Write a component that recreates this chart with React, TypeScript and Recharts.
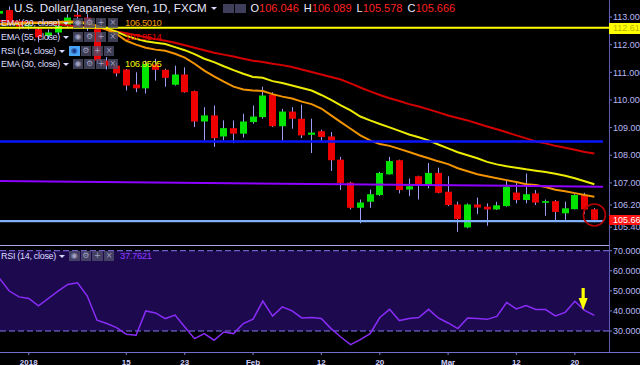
import React from 'react';
import {
  ComposedChart,
  Bar,
  Line,
  XAxis,
  YAxis,
  ReferenceLine,
  ReferenceDot,
  ReferenceArea,
} from 'recharts';

const FONT = '"Liberation Sans", Arial, Helvetica, sans-serif';

// ---------- categories ----------
const dates = [
  '2017-12-27', '2017-12-28', '2017-12-29', '2018-01-01', '2018-01-02', '2018-01-03', '2018-01-04', '2018-01-05', '2018-01-08', '2018-01-09',
  '2018-01-10', '2018-01-11', '2018-01-12', '2018-01-15', '2018-01-16', '2018-01-17', '2018-01-18', '2018-01-19', '2018-01-22', '2018-01-23',
  '2018-01-24', '2018-01-25', '2018-01-26', '2018-01-29', '2018-01-30', '2018-01-31', '2018-02-01', '2018-02-02', '2018-02-05', '2018-02-06',
  '2018-02-07', '2018-02-08', '2018-02-09', '2018-02-12', '2018-02-13', '2018-02-14', '2018-02-15', '2018-02-16', '2018-02-19', '2018-02-20',
  '2018-02-21', '2018-02-22', '2018-02-23', '2018-02-26', '2018-02-27', '2018-02-28', '2018-03-01', '2018-03-02', '2018-03-05', '2018-03-06',
  '2018-03-07', '2018-03-08', '2018-03-09', '2018-03-12', '2018-03-13', '2018-03-14', '2018-03-15', '2018-03-16', '2018-03-19', '2018-03-20',
  '2018-03-21', '2018-03-22',
];

// ---------- OHLC ----------
const openPrices = [
  113.12, 113.25, 112.80, 112.66, 112.56, 112.32, 112.44, 112.68, 113.08, 112.98,
  112.56, 111.42, 111.24, 111.10, 110.56, 110.42, 111.28, 111.09, 110.55, 110.92,
  110.32, 109.22, 109.44, 108.68, 108.98, 108.78, 109.20, 109.38, 110.19, 109.05,
  109.58, 109.32, 108.74, 108.87, 108.68, 107.84, 107.01, 106.10, 106.32, 106.56,
  107.31, 107.82, 106.76, 107.24, 106.89, 107.36, 106.68, 106.22, 105.39, 106.22,
  106.14, 106.04, 106.16, 106.65, 106.38, 106.62, 106.28, 106.34, 105.90, 106.05,
  106.56, 106.046,
];
const highPrices = [
  113.30, 113.38, 112.92, 112.82, 112.62, 112.55, 112.75, 113.10, 113.20, 113.10,
  112.62, 111.55, 111.35, 111.12, 111.00, 111.42, 111.49, 111.13, 111.24, 111.18,
  110.34, 109.74, 109.80, 109.26, 109.26, 109.50, 109.80, 110.48, 110.28, 109.68,
  109.74, 109.83, 109.32, 108.92, 108.84, 107.94, 107.04, 106.40, 106.76, 107.40,
  107.94, 107.84, 107.16, 107.26, 107.72, 107.55, 107.24, 106.32, 106.26, 106.47,
  106.26, 106.32, 107.07, 107.00, 107.34, 106.74, 106.40, 106.38, 106.32, 106.59,
  106.64, 106.089,
];
const lowPrices = [
  113.05, 112.70, 112.55, 112.55, 112.08, 112.20, 112.38, 112.60, 112.90, 112.50,
  111.30, 111.10, 110.85, 110.34, 110.28, 110.23, 110.70, 110.48, 110.52, 110.26,
  109.02, 108.54, 108.30, 108.54, 108.44, 108.64, 109.14, 109.32, 109.02, 108.48,
  108.96, 108.62, 108.08, 108.48, 107.43, 106.74, 106.04, 105.54, 106.10, 106.53,
  107.30, 106.62, 106.52, 106.40, 106.80, 106.62, 106.16, 105.23, 105.36, 105.87,
  105.45, 106.02, 106.14, 106.26, 106.26, 106.20, 105.81, 105.59, 105.66, 106.04,
  105.87, 105.578,
];
const closePrices = [
  113.22, 112.80, 112.66, 112.70, 112.26, 112.44, 112.68, 112.98, 113.01, 112.62,
  111.42, 111.24, 110.96, 110.52, 110.42, 111.30, 111.09, 110.80, 110.92, 110.28,
  109.22, 109.44, 108.62, 108.98, 108.78, 109.22, 109.40, 110.16, 109.05, 109.58,
  109.32, 108.72, 108.82, 108.66, 107.82, 107.00, 106.10, 106.29, 106.59, 107.36,
  107.79, 106.74, 106.88, 106.92, 107.36, 106.64, 106.20, 105.69, 106.22, 106.11,
  106.04, 106.19, 106.86, 106.38, 106.59, 106.29, 106.34, 105.95, 106.08, 106.56,
  106.04, 105.666,
];

// ---------- indicators ----------
const ema20 = [
  112.76, 112.76, 112.78, 112.79, 112.80, 112.80, 112.82, 112.84, 112.84, 112.78,
  112.68, 112.54, 112.39, 112.14, 112.00, 111.89, 111.82, 111.78, 111.67, 111.53,
  111.31, 111.06, 110.85, 110.66, 110.48, 110.38, 110.34, 110.32, 110.21, 110.12,
  110.05, 109.94, 109.85, 109.69, 109.44, 109.20, 108.96, 108.72, 108.54, 108.41,
  108.34, 108.23, 108.12, 108.00, 107.89, 107.78, 107.68, 107.53, 107.42, 107.31,
  107.24, 107.17, 107.10, 107.03, 106.95, 106.92, 106.85, 106.75, 106.70, 106.63,
  106.56, 106.50,
];
const ema30 = [
  112.74, 112.75, 112.76, 112.77, 112.78, 112.79, 112.80, 112.80, 112.80, 112.76,
  112.68, 112.58, 112.47, 112.32, 112.21, 112.12, 112.07, 112.02, 111.91, 111.80,
  111.66, 111.49, 111.37, 111.22, 111.08, 110.95, 110.83, 110.80, 110.68, 110.61,
  110.52, 110.43, 110.34, 110.18, 110.00, 109.80, 109.62, 109.40, 109.26, 109.13,
  109.01, 108.88, 108.75, 108.65, 108.54, 108.39, 108.25, 108.11, 108.00, 107.89,
  107.76, 107.67, 107.60, 107.55, 107.49, 107.44, 107.39, 107.33, 107.26, 107.17,
  107.06, 106.95,
];
const ema55 = [
  112.86, 112.85, 112.83, 112.81, 112.79, 112.77, 112.74, 112.70, 112.66, 112.63,
  112.61, 112.56, 112.48, 112.41, 112.34, 112.27, 112.20, 112.14, 112.07, 111.98,
  111.89, 111.80, 111.71, 111.64, 111.57, 111.49, 111.42, 111.37, 111.31, 111.26,
  111.19, 111.10, 111.01, 110.92, 110.83, 110.74, 110.60, 110.45, 110.31, 110.18,
  110.06, 109.96, 109.85, 109.76, 109.66, 109.55, 109.44, 109.35, 109.26, 109.15,
  109.04, 108.94, 108.83, 108.72, 108.61, 108.50, 108.43, 108.34, 108.27, 108.20,
  108.12, 108.06,
];
const rsi14 = [
  56.2, 49.9, 47.0, 46.2, 42.5, 46.2, 49.9, 53.2, 54.0, 47.4,
  35.4, 33.7, 31.7, 28.4, 27.9, 40.0, 39.0, 36.2, 37.9, 32.0,
  26.2, 28.7, 25.4, 29.5, 28.7, 33.7, 35.9, 44.9, 37.4, 42.0,
  40.0, 36.5, 36.7, 36.2, 31.2, 27.0, 23.2, 25.7, 28.7, 36.7,
  40.8, 35.2, 36.2, 36.7, 40.8, 36.5, 34.0, 31.2, 36.5, 36.2,
  35.8, 37.3, 44.2, 41.0, 42.7, 40.7, 40.7, 37.5, 39.3, 44.8,
  40.3, 37.76,
];

// ---------- levels & ticks ----------
const resistanceLevel = 112.61;
const blueLevel = 108.5;
const supportLevel = 105.62;
const trendStartValue = 107.07;
const trendEndValue = 106.86;
const lastPrice = 105.666;
const priceTicks = [105.4, 106.2, 107, 108, 109, 110, 111, 112, 113];
const rsiTicks = [30, 40, 50, 60, 70];
const tickDates = ['2018-01-01', '2018-01-15', '2018-01-23', '2018-02-01', '2018-02-12', '2018-02-20', '2018-03-01', '2018-03-12', '2018-03-20'];
const tickLabels = ['2018', '15', '23', 'Feb', '12', '20', 'Mar', '12', '20'];
const tickPositions = tickDates.map((d) => dates.indexOf(d));

const rows = dates.map((date, k) => ({
  k,
  date,
  open: openPrices[k],
  high: highPrices[k],
  low: lowPrices[k],
  close: closePrices[k],
  range: [lowPrices[k], highPrices[k]],
  ema20: ema20[k],
  ema30: ema30[k],
  ema55: ema55[k],
  rsi: rsi14[k],
}));

const X_DOMAIN: [number, number] = [0.05, 62.5];
const LAST_K = dates.length - 1;
const LINE_END_K = 61.88;

const Candle = (props: any) => {
  const { x, y, width, height, payload } = props;
  if (!payload || x == null) return null;
  const top = Math.min(y, y + height);
  const bot = Math.max(y, y + height);
  const { open, close, high, low } = payload;
  const ppu = (bot - top) / (high - low || 1);
  const oy = top + (high - open) * ppu;
  const cy = top + (high - close) * ppu;
  const up = close >= open;
  const cx = Math.round(x + width / 2) + 0.5;
  const bTop = Math.min(oy, cy);
  const bH = Math.max(1.2, Math.abs(oy - cy));
  return (
    <g>
      <line x1={cx} x2={cx} y1={top} y2={bot} stroke="#9d9df5" strokeWidth={1} />
      <rect x={cx - 3.5} y={bTop} width={7} height={bH} fill={up ? '#00e400' : '#ee0000'} />
    </g>
  );
};

const PriceTick = (p: any) => (
  <text x={613} y={p.y + 3.2} fontSize={9} fill="#b9b9f5" fontFamily={FONT}>
    {Number(p.payload.value).toFixed(3)}
  </text>
);

const RsiTick = (p: any) => (
  <text x={613} y={p.y + 3.2} fontSize={9} fill="#b9b9f5" fontFamily={FONT}>
    {Number(p.payload.value).toFixed(4)}
  </text>
);

const DateTick = (p: any) => {
  const idx = tickPositions.indexOf(p.payload.value);
  return (
    <text x={p.x} y={124.5} textAnchor="middle" fontSize={8} fontWeight="bold" fill="#d2d2ff" fontFamily={FONT}>
      {tickLabels[idx]}
    </text>
  );
};

const ArrowShape = (p: any) => {
  const { cx, cy } = p;
  if (cx == null) return null;
  return (
    <g>
      <rect x={cx - 1.6} y={cy} width={3.2} height={12} fill="#ffff00" />
      <path d={`M${cx - 4.5},${cy + 10} L${cx + 4.5},${cy + 10} L${cx},${cy + 22} Z`} fill="#ffff00" />
    </g>
  );
};

const Caret = ({ x, y }: { x: number; y: number }) => (
  <div
    style={{
      position: 'absolute',
      left: x,
      top: y,
      width: 0,
      height: 0,
      borderLeft: '3px solid transparent',
      borderRight: '3px solid transparent',
      borderTop: '3.5px solid #d8d8ff',
    }}
  />
);

const iconSymbols = ['◉', '⚙', '+', '×'];
const Icons = ({ x, y, count = 4, highlight = false }: { x: number; y: number; count?: number; highlight?: boolean }) => (
  <>
    {iconSymbols.slice(0, count).map((s, i) => (
      <div
        key={i}
        style={{
          position: 'absolute',
          left: x + i * 11.6,
          top: y,
          width: 10.5,
          height: 10,
          background: highlight && i === 0 ? '#48a4f4' : 'rgba(78,78,108,0.78)',
          color: highlight && i === 0 ? '#1c3a8c' : '#a0a0c0',
          fontSize: 8,
          lineHeight: '10px',
          textAlign: 'center',
          fontFamily: 'DejaVu Sans, sans-serif',
        }}
      >
        {s}
      </div>
    ))}
  </>
);

const legendRows = [
  { label: 'EMA (20, close)', value: '106.5010', color: '#f09a00', cy: 22.7, caret: 62.5, icons: 72.7, hl: false },
  { label: 'EMA (55, close)', value: '107.9514', color: '#e00000', cy: 36.7, caret: 62.5, icons: 72.7, hl: false },
  { label: 'RSI (14, close)', value: '', color: '#fff', cy: 50.7, caret: 59, icons: 69, hl: true },
  { label: 'EMA (30, close)', value: '106.9505', color: '#f0f000', cy: 64.3, caret: 62.5, icons: 72.7, hl: false },
];

const ohlc = [
  { k: 'O', v: '106.046' },
  { k: 'H', v: '106.089' },
  { k: 'L', v: '105.578' },
  { k: 'C', v: '105.666' },
];

export default function App() {
  return (
    <div
      style={{
        position: 'fixed',
        left: 0,
        top: 0,
        width: 640,
        height: 365,
        background: '#000',
        overflow: 'hidden',
        fontFamily: FONT,
      }}
    >
      {/* main price pane */}
      <div style={{ position: 'absolute', left: 0, top: 0 }}>
        <ComposedChart width={640} height={244} data={rows} margin={{ top: 0, right: 0, bottom: 0, left: 0 }}>
          <XAxis dataKey="k" type="number" domain={X_DOMAIN} allowDataOverflow hide />
          <YAxis
            orientation="right"
            type="number"
            domain={[104.79, 113.615]}
            allowDataOverflow
            ticks={priceTicks}
            interval={0}
            width={31}
            axisLine={false}
            tickLine={{ stroke: '#7f7fd0' }}
            tickSize={3}
            tick={<PriceTick />}
          />
          <Bar dataKey="range" barSize={7} shape={<Candle />} isAnimationActive={false} />
          <Line type="linear" dataKey="ema55" stroke="#d40000" strokeWidth={2} dot={false} isAnimationActive={false} />
          <Line type="linear" dataKey="ema30" stroke="#ecec00" strokeWidth={2} dot={false} isAnimationActive={false} />
          <Line type="linear" dataKey="ema20" stroke="#f29400" strokeWidth={2} dot={false} isAnimationActive={false} />
          <ReferenceLine y={resistanceLevel} stroke="#ffff00" strokeWidth={2} />
          <ReferenceLine
            segment={[
              { x: X_DOMAIN[0], y: blueLevel },
              { x: LINE_END_K, y: blueLevel },
            ]}
            stroke="#0a14ff"
            strokeWidth={2.5}
          />
          <ReferenceLine
            segment={[
              { x: X_DOMAIN[0], y: trendStartValue },
              { x: LINE_END_K, y: trendEndValue },
            ]}
            stroke="#8e00ff"
            strokeWidth={2}
          />
          <ReferenceLine
            segment={[
              { x: X_DOMAIN[0], y: supportLevel },
              { x: LINE_END_K, y: supportLevel },
            ]}
            stroke="#7fb0ff"
            strokeWidth={2.3}
          />
          <ReferenceDot x={LAST_K} y={105.84} r={11} fill="none" stroke="#b80000" strokeWidth={1.6} />
        </ComposedChart>
      </div>

      {/* RSI pane */}
      <div style={{ position: 'absolute', left: 0, top: 240 }}>
        <ComposedChart width={640} height={125} data={rows} margin={{ top: 5.7, right: 0, bottom: 0, left: 0 }}>
          <XAxis
            dataKey="k"
            type="number"
            domain={X_DOMAIN}
            allowDataOverflow
            ticks={tickPositions}
            interval={0}
            height={13}
            axisLine={false}
            tickLine={{ stroke: '#8080d8' }}
            tickSize={3}
            tick={<DateTick />}
          />
          <YAxis
            orientation="right"
            type="number"
            domain={[19.54, 72.49]}
            allowDataOverflow
            ticks={rsiTicks}
            interval={0}
            width={31}
            axisLine={false}
            tickLine={{ stroke: '#7f7fd0' }}
            tickSize={3}
            tick={<RsiTick />}
          />
          <ReferenceArea y1={30} y2={70} fill="#1d0a4e" fillOpacity={1} stroke="none" />
          <ReferenceLine y={70} stroke="#8576ee" strokeDasharray="6 3" strokeWidth={1} />
          <ReferenceLine y={30} stroke="#8576ee" strokeDasharray="6 3" strokeWidth={1} />
          <Line type="linear" dataKey="rsi" stroke="#8a2cf8" strokeWidth={1.5} dot={false} isAnimationActive={false} />
          <ReferenceDot x={59.85} y={51.4} r={1} shape={<ArrowShape />} />
        </ComposedChart>
      </div>

      {/* frame lines */}
      <div style={{ position: 'absolute', left: 609, top: 0, width: 1, height: 352, background: '#5d5db4' }} />
      <div style={{ position: 'absolute', left: 0, top: 245, width: 609, height: 1, background: '#a4a4e6' }} />
      <div style={{ position: 'absolute', left: 0, top: 352, width: 640, height: 1, background: '#7070cc' }} />

      {/* axis price labels */}
      <div
        style={{
          position: 'absolute', left: 609, top: 23, width: 31, height: 11, background: '#ffff00',
          color: '#b5b500', fontSize: 9, lineHeight: '11px', paddingLeft: 4, boxSizing: 'border-box', whiteSpace: 'nowrap',
        }}
      >
        {resistanceLevel.toFixed(3)}
      </div>
      <div
        style={{
          position: 'absolute', left: 609, top: 215, width: 31, height: 10, background: '#ff1414',
          color: '#ffffff', fontSize: 9, lineHeight: '10px', paddingLeft: 4, boxSizing: 'border-box', whiteSpace: 'nowrap',
        }}
      >
        {lastPrice.toFixed(3)}
      </div>

      {/* header */}
      <div style={{ position: 'absolute', left: 14, top: 1, fontSize: 11.6, lineHeight: '14px', color: '#e6e6ff', whiteSpace: 'nowrap' }}>
        U.S. Dollar/Japanese Yen, 1D, FXCM
      </div>
      <Caret x={211} y={7} />
      <div style={{ position: 'absolute', left: 222.5, top: 3.5, width: 11, height: 9.5, background: '#3f3f5c' }} />
      <div style={{ position: 'absolute', left: 235, top: 3.5, width: 11, height: 9.5, background: '#3f3f5c' }} />
      <div style={{ position: 'absolute', left: 250.5, top: 1, fontSize: 11, lineHeight: '14px', whiteSpace: 'nowrap' }}>
        {ohlc.map((o, i) => (
          <span key={o.k} style={{ marginLeft: i === 0 ? 0 : 5 }}>
            <span style={{ color: '#ececff' }}>{o.k}</span>
            <span style={{ color: '#ff2222' }}>{o.v}</span>
          </span>
        ))}
      </div>

      {/* indicator legend rows */}
      {legendRows.map((r) => (
        <React.Fragment key={r.label}>
          <div
            style={{
              position: 'absolute', left: 1, top: r.cy - 6, fontSize: 9, lineHeight: '12px',
              letterSpacing: -0.3, color: '#dcdcff', whiteSpace: 'nowrap',
            }}
          >
            {r.label}
          </div>
          <Caret x={r.caret} y={r.cy - 1} />
          <Icons x={r.icons} y={r.cy - 5} highlight={r.hl} />
          {r.value && (
            <div
              style={{
                position: 'absolute', left: 125, top: r.cy - 6, fontSize: 9.5, lineHeight: '12px',
                letterSpacing: -0.4, color: r.color, whiteSpace: 'nowrap',
              }}
            >
              {r.value}
            </div>
          )}
        </React.Fragment>
      ))}

      {/* RSI pane legend */}
      <div
        style={{
          position: 'absolute', left: 1, top: 250, fontSize: 9, lineHeight: '12px',
          letterSpacing: -0.3, color: '#dcdcff', whiteSpace: 'nowrap',
        }}
      >
        RSI (14, close)
      </div>
      <Caret x={59} y={255} />
      <Icons x={69} y={251} />
      <div
        style={{
          position: 'absolute', left: 120, top: 250, fontSize: 9.5, lineHeight: '12px',
          letterSpacing: -0.4, color: '#8f3cff', whiteSpace: 'nowrap',
        }}
      >
        {rsi14[rsi14.length - 1] === 37.76 ? '37.7621' : String(rsi14[rsi14.length - 1])}
      </div>
    </div>
  );
}
